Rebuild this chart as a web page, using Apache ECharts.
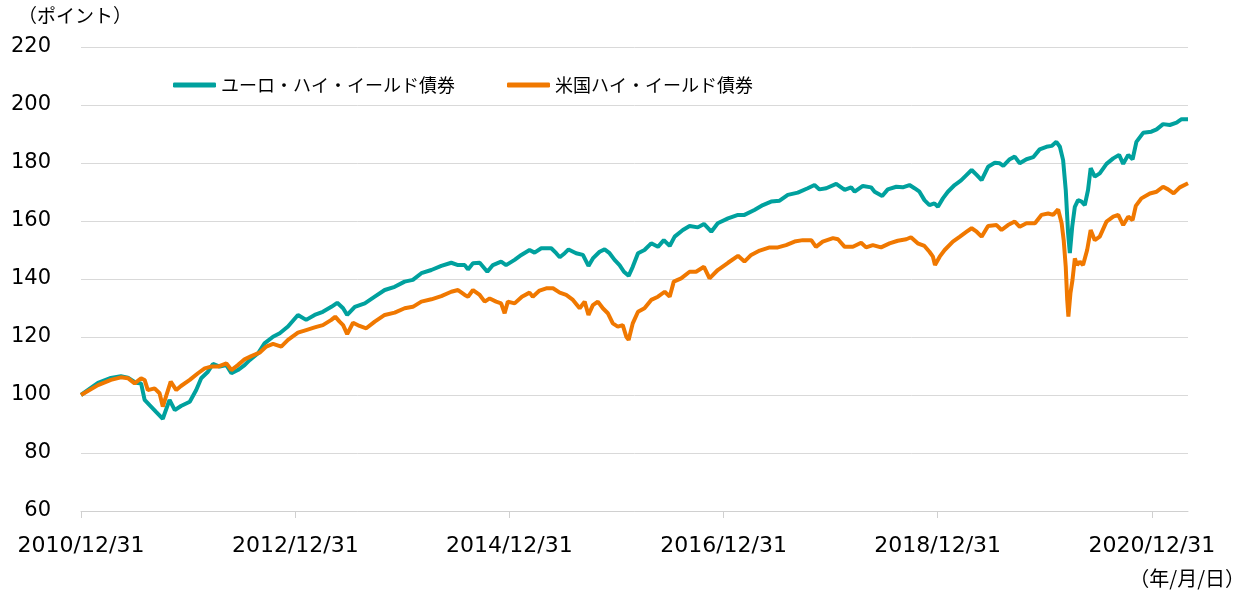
<!DOCTYPE html>
<html><head><meta charset="utf-8">
<script src="https://cdn.jsdelivr.net/npm/echarts@6/dist/echarts.min.js"></script>
<style>html,body{margin:0;padding:0;background:#fff}#c{width:1251px;height:595px}</style>
</head><body><div id="c"></div>
<script>
const seriesNames = ['ユーロ・ハイ・イールド債券', '米国ハイ・イールド債券'];
const tickDates = ['2010-12-31','2012-12-31','2014-12-31','2016-12-31','2018-12-31','2020-12-31'];
const endDate = '2021-05-03';

const euroDates = ['2010-12-31','2011-02-27','2011-04-12','2011-05-16','2011-06-09','2011-07-07','2011-07-24','2011-08-05','2011-08-22','2011-09-13','2011-10-06','2011-10-29','2011-11-16','2011-12-07','2012-01-06','2012-01-28','2012-02-14','2012-03-08','2012-03-25','2012-04-17','2012-05-10','2012-05-27','2012-06-18','2012-07-11','2012-07-28','2012-08-26','2012-09-17','2012-10-16','2012-11-08','2012-12-06','2013-01-09','2013-02-06','2013-03-07','2013-04-04','2013-05-03','2013-05-23','2013-06-12','2013-06-26','2013-07-22','2013-08-25','2013-09-28','2013-11-01','2013-12-05','2014-01-08','2014-02-05','2014-03-06','2014-04-09','2014-05-13','2014-06-16','2014-07-09','2014-08-01','2014-08-12','2014-08-29','2014-09-21','2014-10-17','2014-11-05','2014-12-03','2014-12-20','2015-01-18','2015-02-10','2015-03-10','2015-03-27','2015-04-19','2015-05-23','2015-06-09','2015-06-21','2015-07-08','2015-07-21','2015-08-16','2015-09-08','2015-09-27','2015-10-12','2015-11-04','2015-11-21','2015-12-08','2015-12-25','2016-01-11','2016-01-26','2016-02-11','2016-02-25','2016-03-14','2016-04-05','2016-04-28','2016-05-21','2016-06-10','2016-06-30','2016-07-17','2016-08-14','2016-09-06','2016-10-04','2016-10-25','2016-11-19','2016-12-11','2017-01-15','2017-02-18','2017-03-12','2017-04-15','2017-05-14','2017-06-11','2017-07-10','2017-08-07','2017-09-10','2017-10-14','2017-11-06','2017-11-23','2017-12-16','2018-01-19','2018-02-17','2018-03-11','2018-03-23','2018-04-20','2018-05-18','2018-05-30','2018-06-25','2018-07-14','2018-08-12','2018-09-03','2018-09-26','2018-10-13','2018-10-30','2018-11-16','2018-12-03','2018-12-20','2019-01-01','2019-01-18','2019-02-04','2019-02-27','2019-03-21','2019-04-09','2019-04-26','2019-05-13','2019-05-30','2019-06-21','2019-07-14','2019-07-31','2019-08-12','2019-09-03','2019-09-20','2019-10-07','2019-10-30','2019-11-22','2019-12-14','2020-01-06','2020-01-24','2020-02-09','2020-02-21','2020-03-03','2020-03-12','2020-03-20','2020-03-26','2020-04-03','2020-04-12','2020-04-23','2020-05-05','2020-05-16','2020-05-27','2020-06-05','2020-06-19','2020-07-06','2020-07-29','2020-08-21','2020-09-10','2020-09-24','2020-10-11','2020-10-26','2020-11-08','2020-12-01','2020-12-29','2021-01-16','2021-02-07','2021-03-02','2021-03-25','2021-04-11','2021-05-03'];
const euroValues = [100,104.2,105.9,106.5,106.0,104.2,104.0,98.3,96.5,94.2,91.8,98.3,94.8,96.2,97.7,101.7,105.8,108.0,110.7,109.8,110.3,107.5,108.6,110.3,112.0,114.4,117.8,120.1,121.3,123.6,127.6,125.9,127.6,128.7,130.4,131.8,129.9,127.6,130.4,131.6,133.9,136.2,137.3,139.1,139.7,142.0,143.1,144.5,145.6,144.8,144.8,143.3,145.4,145.6,142.5,144.8,146.0,144.8,146.6,148.3,150.0,149.1,150.6,150.6,148.9,147.5,148.9,150.2,148.9,148.3,144.5,147.1,149.4,150.2,148.9,146.6,144.8,142.5,141.1,144.2,148.9,150.0,152.3,151.1,153.4,151.4,154.6,156.9,158.3,157.8,159.0,156.3,159.2,160.9,162.1,162.1,163.8,165.5,166.7,167.0,169.0,169.8,171.3,172.4,170.9,171.3,172.8,170.7,171.6,170.1,172.1,171.6,170.1,168.6,170.9,171.8,171.6,172.4,171.3,170.1,167.2,165.5,166.1,164.9,167.8,170.1,172.4,174.0,175.9,177.6,175.9,174.1,178.7,180.1,179.9,179.0,181.3,182.2,179.9,181.3,182.0,184.7,185.6,185.9,187.3,185.6,181.0,170.7,155.8,148.9,158.0,164.9,167.2,166.7,165.5,170.7,178.2,175.3,176.4,179.7,181.6,182.8,179.7,182.8,181.3,187.3,190.4,190.8,191.6,193.4,193.1,193.9,195.1,195.1];

const usDates = ['2010-12-31','2011-02-27','2011-04-12','2011-05-16','2011-06-09','2011-07-02','2011-07-24','2011-08-05','2011-08-16','2011-09-08','2011-09-25','2011-10-06','2011-11-02','2011-11-21','2011-12-07','2012-01-06','2012-02-03','2012-02-26','2012-03-19','2012-04-11','2012-05-10','2012-05-27','2012-06-18','2012-07-11','2012-08-03','2012-08-31','2012-09-23','2012-10-16','2012-11-13','2012-12-06','2013-01-09','2013-02-06','2013-03-07','2013-04-04','2013-05-03','2013-05-16','2013-05-31','2013-06-12','2013-06-26','2013-07-16','2013-08-07','2013-08-30','2013-09-28','2013-11-01','2013-12-05','2014-01-08','2014-02-05','2014-03-06','2014-04-09','2014-05-13','2014-06-16','2014-07-09','2014-08-01','2014-08-12','2014-08-29','2014-09-21','2014-10-08','2014-10-25','2014-11-16','2014-12-03','2014-12-15','2014-12-26','2015-01-18','2015-02-12','2015-03-10','2015-03-21','2015-04-13','2015-05-06','2015-05-29','2015-06-21','2015-07-13','2015-08-05','2015-08-28','2015-09-14','2015-09-27','2015-10-12','2015-10-29','2015-11-15','2015-12-02','2015-12-19','2016-01-05','2016-01-22','2016-02-03','2016-02-11','2016-02-25','2016-03-14','2016-04-05','2016-04-28','2016-05-21','2016-06-13','2016-06-30','2016-07-14','2016-08-08','2016-09-06','2016-09-28','2016-10-25','2016-11-13','2016-12-11','2017-01-15','2017-02-18','2017-03-12','2017-04-04','2017-05-03','2017-06-06','2017-07-04','2017-08-01','2017-08-30','2017-09-27','2017-10-26','2017-11-11','2017-12-04','2018-01-08','2018-01-25','2018-02-17','2018-03-17','2018-04-14','2018-05-01','2018-05-24','2018-06-21','2018-07-20','2018-08-17','2018-09-15','2018-10-01','2018-10-24','2018-11-16','2018-12-03','2018-12-15','2018-12-22','2019-01-07','2019-01-24','2019-02-21','2019-03-17','2019-04-09','2019-04-26','2019-05-13','2019-05-30','2019-06-21','2019-07-20','2019-08-06','2019-08-28','2019-09-20','2019-10-07','2019-10-30','2019-11-28','2019-12-20','2020-01-12','2020-01-29','2020-02-15','2020-02-27','2020-03-05','2020-03-12','2020-03-17','2020-03-21','2020-03-28','2020-04-04','2020-04-12','2020-04-20','2020-04-29','2020-05-10','2020-05-24','2020-06-05','2020-06-19','2020-07-06','2020-07-29','2020-08-21','2020-09-07','2020-09-24','2020-10-11','2020-10-26','2020-11-06','2020-11-25','2020-12-24','2021-01-16','2021-02-07','2021-02-24','2021-03-15','2021-04-05','2021-05-03'];
const usValues = [100,103.4,105.2,106.1,105.8,104.0,105.8,105.2,101.7,102.3,100.6,96.0,104.6,101.7,103.1,105.2,107.5,109.2,109.8,109.8,110.9,108.6,110.3,112.3,113.4,114.6,116.7,117.6,116.7,119.0,121.5,122.4,123.3,124.1,125.9,127.0,125.3,124.1,121.0,124.9,123.8,123.0,125.3,127.6,128.4,129.9,130.4,132.2,133.0,134.1,135.6,136.2,134.5,133.9,136.2,134.5,132.2,133.3,132.2,131.6,128.2,132.2,131.6,133.9,135.3,133.9,136.0,136.8,136.8,135.3,134.5,132.8,129.9,132.2,127.6,131.0,132.2,129.9,128.2,124.7,123.6,124.1,120.1,119.0,124.7,128.7,129.9,132.8,133.9,135.6,133.9,139.1,140.2,142.5,142.5,144.2,140.2,143.1,145.6,148.0,146.0,148.3,149.8,150.9,150.9,151.7,152.9,153.4,153.4,151.1,152.9,154.1,153.7,151.1,151.1,152.5,150.9,151.7,150.9,152.3,153.2,153.7,154.4,152.3,151.4,149.4,147.7,144.8,147.7,150.0,152.9,154.6,156.3,157.5,156.3,154.6,158.3,158.6,156.9,158.6,159.8,158.0,159.2,159.2,162.1,162.6,162.1,164.0,159.2,153.4,144.2,132.8,127.0,135.1,139.7,147.1,144.8,146.0,144.8,150.0,156.9,153.4,154.6,159.8,161.5,162.1,158.6,161.5,160.3,165.2,167.8,169.5,170.1,171.8,170.9,169.5,171.6,173.0];

const toTs = s => { const p = s.split('-').map(Number); return Date.UTC(p[0], p[1] - 1, p[2]); };
const pad = n => (n < 10 ? '0' : '') + n;
const fmtDate = v => { const d = new Date(v); return d.getUTCFullYear() + '/' + pad(d.getUTCMonth() + 1) + '/' + pad(d.getUTCDate()); };
const tickTs = tickDates.map(toTs);
const euroData = euroDates.map((d, i) => [toTs(d), euroValues[i]]);
const usData = usDates.map((d, i) => [toTs(d), usValues[i]]);

const LABEL_FONT = 'DejaVu Sans';
const JP_FONT = '"Noto Sans CJK JP", sans-serif';

const chart = echarts.init(document.getElementById('c'), null, { renderer: 'canvas' });
chart.setOption({
  animation: false,
  backgroundColor: '#ffffff',
  grid: { left: 81, right: 63, top: 47, bottom: 84, containLabel: false },
  legend: {
    left: 168, top: 71,
    itemWidth: 43, itemHeight: 5, itemGap: 52,
    icon: 'roundRect',
    textStyle: { fontFamily: JP_FONT, fontSize: 18, color: '#000' },
    data: seriesNames
  },
  xAxis: {
    type: 'value',
    min: tickTs[0], max: toTs(endDate),
    axisLine: { show: true, lineStyle: { color: '#D0D0D0', width: 1 } },
    axisTick: { show: true, customValues: tickTs, length: 7, lineStyle: { color: '#D0D0D0', width: 1 } },
    axisLabel: { customValues: tickTs, formatter: fmtDate, margin: 24, fontSize: 22, fontFamily: LABEL_FONT, color: '#000', hideOverlap: false },
    splitLine: { show: false }
  },
  yAxis: {
    type: 'value', min: 60, max: 220, interval: 20,
    axisLine: { show: false }, axisTick: { show: false },
    axisLabel: { fontSize: 21, fontFamily: LABEL_FONT, color: '#000', margin: 30 },
    splitLine: { lineStyle: { color: '#D9D9D9', width: 1 } }
  },
  graphic: [
    { type: 'text', left: 18, top: 6, style: { text: '（ポイント）', font: '19px ' + JP_FONT, fill: '#000' } },
    { type: 'text', right: 6, top: 568, style: { text: '（年/月/日）', font: '20px ' + JP_FONT, fill: '#000' } }
  ],
  series: [
    { name: seriesNames[0], type: 'line', data: euroData, showSymbol: false, symbol: 'none',
      lineStyle: { color: '#00A19E', width: 4 }, itemStyle: { color: '#00A19E' } },
    { name: seriesNames[1], type: 'line', data: usData, showSymbol: false, symbol: 'none',
      lineStyle: { color: '#F07800', width: 4 }, itemStyle: { color: '#F07800' } }
  ]
});
</script></body></html>
